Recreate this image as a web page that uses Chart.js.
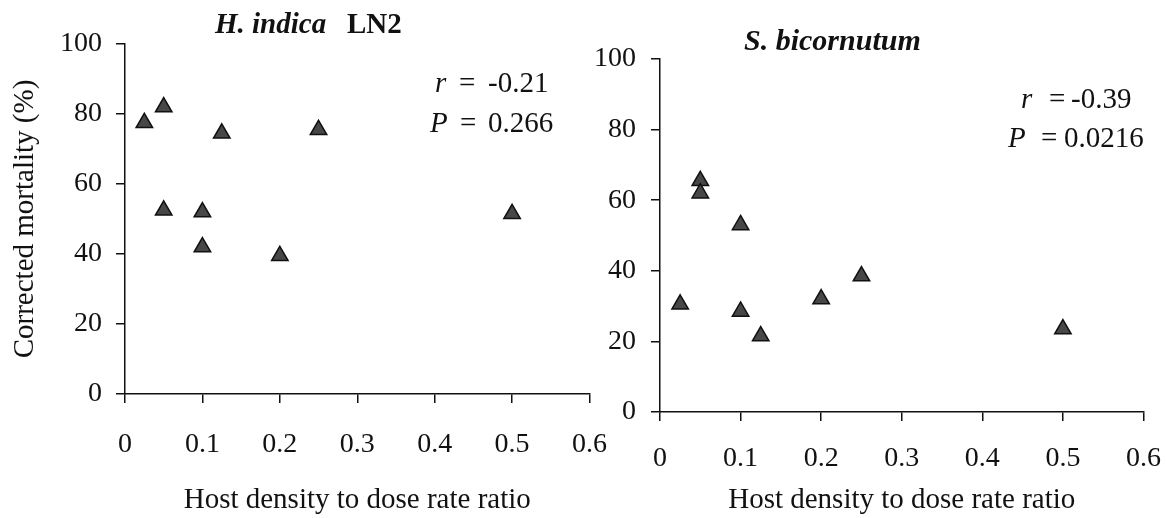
<!DOCTYPE html>
<html>
<head>
<meta charset="utf-8">
<script src="https://cdn.jsdelivr.net/npm/chart.js@4"></script>
<style>
  body { margin: 0; background: #fff; }
  #wrap { position: relative; width: 1166px; height: 518px; overflow: hidden; }
  canvas { position: absolute; top: 0; }
</style>
</head>
<body>
<div id="wrap">
  <canvas id="indica" width="632" height="518" style="left:0px"></canvas>
  <canvas id="bicornutum" width="602" height="518" style="left:580px"></canvas>
</div>
<script>
const xTicks = [0, 0.1, 0.2, 0.3, 0.4, 0.5, 0.6];
const yTicks = [0, 20, 40, 60, 80, 100];

// H. indica LN2
const indicaRatio = [0.025, 0.05, 0.125, 0.25, 0.05, 0.1, 0.1, 0.2, 0.5];
const indicaMortality = [77.5, 82, 74.5, 75.5, 52.5, 52, 42, 39.5, 51.5];

// S. bicornutum
const bicornutumRatio = [0.05, 0.05, 0.1, 0.025, 0.1, 0.125, 0.2, 0.25, 0.5];
const bicornutumMortality = [65.5, 62, 53, 30.5, 28.5, 21.5, 32, 38.5, 23.5];

const serif = "'Liberation Serif', 'Times New Roman', serif";
const ink = '#111';

function points(xs, ys) {
  return xs.map((x, i) => ({ x: x, y: ys[i] }));
}

// titles and r / P notes, drawn on top of the chart
function textPlugin(items) {
  return {
    id: 'panelText',
    afterDraw(chart) {
      const ctx = chart.ctx;
      ctx.save();
      ctx.fillStyle = ink;
      ctx.textAlign = 'left';
      ctx.textBaseline = 'alphabetic';
      items.forEach((it) => {
        ctx.font = it.font;
        ctx.fillText(it.text, it.x, it.y);
      });
      ctx.restore();
    }
  };
}

function makeChart(id, xs, ys, o) {
  const ctx = document.getElementById(id).getContext('2d');
  return new Chart(ctx, {
    type: 'scatter',
    data: {
      datasets: [{
        data: points(xs, ys),
        pointStyle: 'triangle',
        pointRadius: 9.5,
        pointHoverRadius: 9.5,
        backgroundColor: '#474747',
        borderColor: ink,
        borderWidth: 1.5
      }]
    },
    options: {
      responsive: false,
      animation: false,
      // right side ends up as (last label half width + tick padding)
      layout: { padding: { top: o.top, right: 20, left: 0, bottom: 0 } },
      plugins: {
        legend: { display: false },
        tooltip: { enabled: false }
      },
      scales: {
        x: {
          type: 'linear',
          min: 0,
          max: 0.6,
          afterBuildTicks: (s) => { s.ticks = xTicks.map((v) => ({ value: v })); },
          afterFit: (s) => { s.height = o.xHeight; },
          grid: { drawOnChartArea: false, color: ink, lineWidth: 1.5, tickLength: 9 },
          border: { color: ink, width: 1.5 },
          ticks: {
            color: ink,
            font: { family: serif, size: 28 },
            padding: o.xTickPad,
            maxRotation: 0,
            autoSkip: false,
            callback: (v) => String(v)
          },
          title: {
            display: true,
            text: 'Host density to dose rate ratio',
            color: ink,
            font: { family: serif, size: 29 },
            padding: { top: o.xTitlePad, bottom: 0 }
          }
        },
        y: {
          type: 'linear',
          min: 0,
          max: 100,
          afterBuildTicks: (s) => { s.ticks = yTicks.map((v) => ({ value: v })); },
          afterFit: (s) => { s.width = o.yWidth; },
          grid: { drawOnChartArea: false, color: ink, lineWidth: 1.5, tickLength: 9 },
          border: { color: ink, width: 1.5 },
          ticks: {
            color: ink,
            font: { family: serif, size: 28 },
            padding: o.yTickPad,
            callback: (v) => String(v)
          },
          title: {
            display: o.yTitle,
            text: 'Corrected mortality (%)',
            color: ink,
            font: { family: serif, size: 29 },
            padding: { top: 8, bottom: 0 }
          }
        }
      }
    },
    plugins: [textPlugin(o.texts)]
  });
}

makeChart('indica', indicaRatio, indicaMortality, {
  top: 44, xHeight: 124, yWidth: 125,
  xTickPad: 25, xTitlePad: 27, yTickPad: 14, yTitle: true,
  texts: [
    { text: 'H. indica', font: 'italic bold 29px ' + serif, x: 215, y: 33 },
    { text: 'LN2', font: 'bold 29px ' + serif, x: 347, y: 33 },
    { text: 'r', font: 'italic 29px ' + serif, x: 435, y: 92 },
    { text: '=', font: '29px ' + serif, x: 459, y: 92 },
    { text: '-0.21', font: '29px ' + serif, x: 488, y: 92 },
    { text: 'P', font: 'italic 29px ' + serif, x: 430, y: 132 },
    { text: '=', font: '29px ' + serif, x: 460, y: 132 },
    { text: '0.266', font: '29px ' + serif, x: 488, y: 132 }
  ]
});

makeChart('bicornutum', bicornutumRatio, bicornutumMortality, {
  top: 59, xHeight: 106, yWidth: 80,
  xTickPad: 21, xTitlePad: 5, yTickPad: 15, yTitle: false,
  texts: [
    { text: 'S. bicornutum', font: 'italic bold 30px ' + serif, x: 164, y: 50 },
    { text: 'r', font: 'italic 29px ' + serif, x: 441, y: 108 },
    { text: '=', font: '29px ' + serif, x: 469, y: 108 },
    { text: '-0.39', font: '29px ' + serif, x: 491, y: 108 },
    { text: 'P', font: 'italic 29px ' + serif, x: 428, y: 147 },
    { text: '=', font: '29px ' + serif, x: 461, y: 147 },
    { text: '0.0216', font: '29px ' + serif, x: 484, y: 147 }
  ]
});
</script>
</body>
</html>
